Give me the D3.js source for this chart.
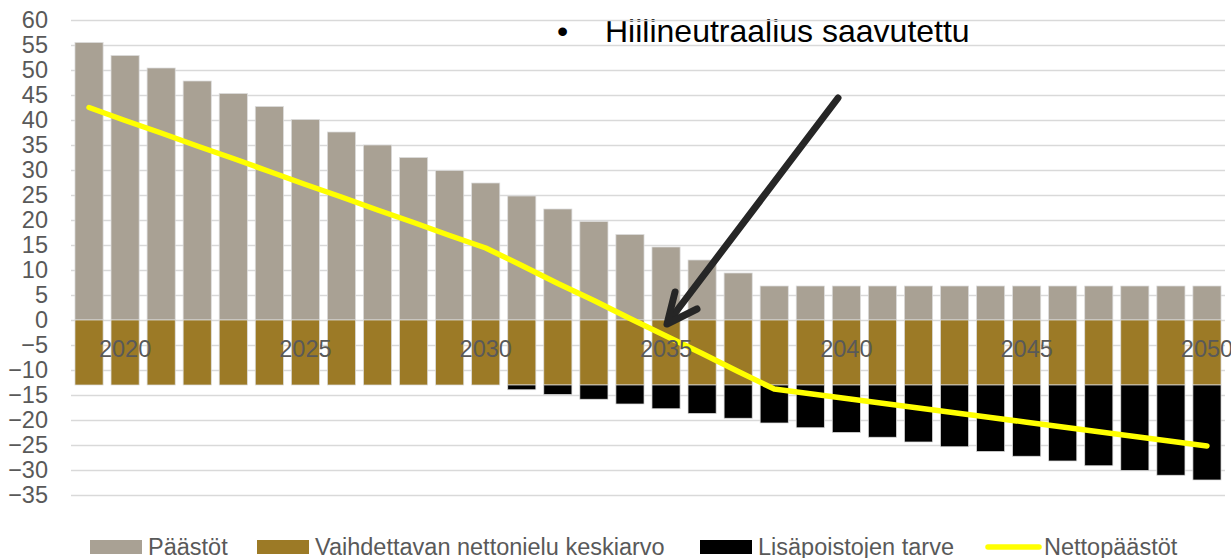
<!DOCTYPE html>
<html lang="fi">
<head>
<meta charset="UTF-8">
<title>Nettopäästöt</title>
<script src="https://cdn.jsdelivr.net/npm/d3@7"></script>
<style>
  html, body { margin: 0; padding: 0; background: #fff; }
  #chart { width: 1231px; height: 558px; }
  text { font-family: "Liberation Sans", Arial, sans-serif; }
</style>
</head>
<body>
<div id="chart"></div>
<script>
// vuodet
const years = d3.range(2019, 2051).map(String);
const xTickLabels = ["2020", "2025", "2030", "2035", "2040", "2045", "2050"];
const yTicks = [-35, -30, -25, -20, -15, -10, -5, 0, 5, 10, 15, 20, 25, 30, 35, 40, 45, 50, 55, 60];

// Päästöt
const emissions = [55.5, 52.9, 50.4, 47.8, 45.3, 42.7, 40.1, 37.6, 35.0, 32.5,
  29.9, 27.4, 24.8, 22.2, 19.7, 17.1, 14.6, 12.0, 9.4, 6.8,
  6.8, 6.8, 6.8, 6.8, 6.8, 6.8, 6.8, 6.8, 6.8, 6.8, 6.8, 6.8];
// Vaihdettavan nettonielu keskiarvo
const sink = [-13, -13, -13, -13, -13, -13, -13, -13, -13, -13, -13, -13, -13, -13, -13, -13,
  -13, -13, -13, -13, -13, -13, -13, -13, -13, -13, -13, -13, -13, -13, -13, -13];
// Lisäpoistojen tarve
const extraRemovals = [0, 0, 0, 0, 0, 0, 0, 0, 0, 0, 0, 0,
  -0.95, -1.9, -2.85, -3.8, -4.75, -5.7, -6.65, -7.6, -8.55, -9.5, -10.45, -11.4,
  -12.35, -13.3, -14.25, -15.2, -16.15, -17.1, -18.05, -19.0];
// Nettopäästöt
const netEmissions = [42.5, 39.9, 37.4, 34.8, 32.3, 29.7, 27.1, 24.6, 22.0, 19.5, 16.9, 14.4,
  10.9, 7.3, 3.9, 0.3, -3.2, -6.7, -10.3, -13.8, -14.75, -15.7, -16.65, -17.6,
  -18.55, -19.5, -20.45, -21.4, -22.35, -23.3, -24.25, -25.2];

const seriesNames = ["Päästöt", "Vaihdettavan nettonielu keskiarvo", "Lisäpoistojen tarve", "Nettopäästöt"];
const colors = ["#a9a194", "#9c7a26", "#000000", "#ffff00"];
const annotation = "Hiilineutraalius saavutettu";

let draw = () => {
  let svg = d3.select("#chart").append("svg")
    .attr("width", 1231)
    .attr("height", 558);

  let padding = { top: 20, left: 71, right: 6, bottom: 63 };
  let width = 1231 - padding.left - padding.right;

  let x = d3.scaleBand()
    .domain(years)
    .range([padding.left, padding.left + width])
    .paddingInner(0.22)
    .paddingOuter(0.11);

  let y = d3.scaleLinear()
    .domain([-35, 60])
    .range([495, 20]);

  // huomioteksti (ruudukko piirretään päälle)
  let note = svg.append("g").attr("fill", "#000").style("font-size", "32px");
  note.append("text").attr("x", 557).attr("y", 42).text("\u2022");
  note.append("text").attr("x", 605).attr("y", 42).text(annotation);

  // ruudukko
  svg.append("g")
    .attr("transform", "translate(" + padding.left + ",0)")
    .call(d3.axisLeft(y).tickValues(yTicks).tickSize(-width).tickFormat(""))
    .call(g => g.select(".domain").remove())
    .call(g => g.selectAll("line").attr("stroke", "#d9d9d9").attr("stroke-width", 1.5));

  // pinotut pylväät
  let stackBar = (values, base, color) => {
    svg.append("g").selectAll("rect")
      .data(years)
      .join("rect")
      .attr("x", d => x(d))
      .attr("width", x.bandwidth())
      .attr("y", (d, i) => y(Math.max(base[i], base[i] + values[i])))
      .attr("height", (d, i) => Math.abs(y(base[i]) - y(base[i] + values[i])))
      .attr("fill", color)
      .attr("stroke", "#dcdcdc")
      .attr("stroke-width", 0.75)
      .filter((d, i) => values[i] === 0).remove();
  };
  let zeros = years.map(() => 0);
  stackBar(emissions, zeros, colors[0]);
  stackBar(sink, zeros, colors[1]);
  stackBar(extraRemovals, sink, colors[2]);

  // nettopäästöt
  let line = d3.line()
    .x((d, i) => x(years[i]) + x.bandwidth() / 2)
    .y(d => y(d));
  svg.append("path")
    .datum(netEmissions)
    .attr("d", line)
    .attr("fill", "none")
    .attr("stroke", colors[3])
    .attr("stroke-width", 5.5)
    .attr("stroke-linecap", "round")
    .attr("stroke-linejoin", "round");

  // nuoli
  let tip = [667, 324];
  let arrow = svg.append("g")
    .attr("fill", "none")
    .attr("stroke", "#262626")
    .attr("stroke-width", 7)
    .attr("stroke-linecap", "round")
    .attr("stroke-linejoin", "round");
  arrow.append("line").attr("x1", 838).attr("y1", 98).attr("x2", tip[0] + 2).attr("y2", tip[1] - 3);
  arrow.append("path").attr("d", d3.line()([[675, 292], tip, [697, 309]]));

  // y-akselin arvot
  svg.append("g")
    .attr("transform", "translate(" + padding.left + ",0)")
    .call(d3.axisLeft(y).tickValues(yTicks).tickSize(0).tickPadding(23))
    .call(g => g.select(".domain").remove())
    .call(g => g.selectAll("text")
      .attr("fill", "#595959")
      .style("font-size", "23.5px")
      .style("font-family", "'Liberation Sans', Arial, sans-serif"));

  // x-akselin vuodet nollatason alla
  svg.append("g")
    .attr("transform", "translate(0," + y(0) + ")")
    .call(d3.axisBottom(x).tickValues(xTickLabels).tickSize(0).tickPadding(20))
    .call(g => g.select(".domain").remove())
    .call(g => g.selectAll("text")
      .attr("fill", "#595959")
      .style("font-size", "23.5px")
      .style("font-family", "'Liberation Sans', Arial, sans-serif"));

  // selite
  let legendX = [90, 257, 700, 986];
  let legend = svg.append("g").selectAll("g")
    .data(seriesNames)
    .join("g")
    .attr("transform", (d, i) => "translate(" + legendX[i] + ",547)");
  legend.filter((d, i) => i < 3).append("rect")
    .attr("x", 0).attr("y", -7)
    .attr("width", 52).attr("height", 14)
    .attr("fill", (d, i) => colors[i]);
  legend.filter((d, i) => i === 3).append("line")
    .attr("x1", 2).attr("x2", 53)
    .attr("stroke", colors[3])
    .attr("stroke-width", 5.5)
    .attr("stroke-linecap", "round");
  legend.append("text")
    .attr("x", 58)
    .attr("y", 8)
    .attr("fill", "#595959")
    .style("font-size", "23.5px")
    .text(d => d);
};

draw();
</script>
</body>
</html>
